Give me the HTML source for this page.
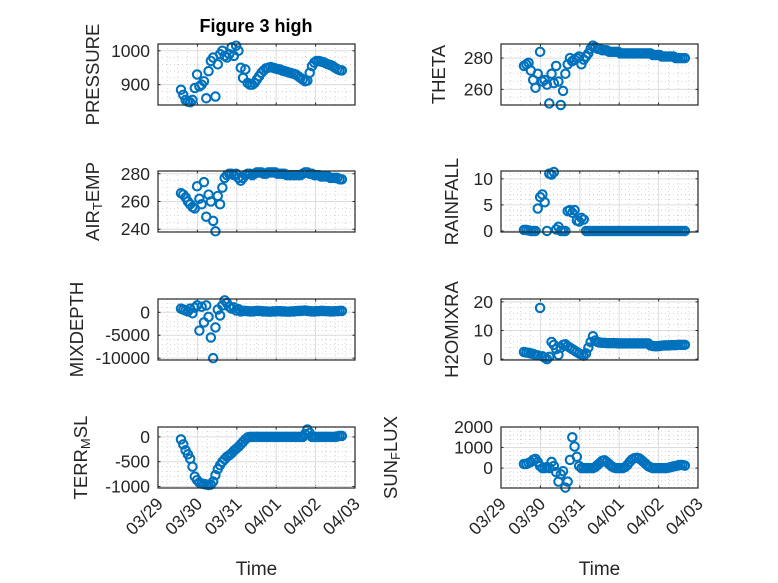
<!DOCTYPE html>
<html><head><meta charset="utf-8"><style>
html,body{margin:0;padding:0;background:#fff;}
svg{display:block;font-family:"Liberation Sans","DejaVu Sans",sans-serif;}
</style></head><body>
<svg id="fig" width="778" height="583" viewBox="0 0 778 583" xmlns="http://www.w3.org/2000/svg">
<rect width="778" height="583" fill="#fff"/>
</svg>
<script>
// hours since 03/29 00:00
const timeHours = [];
for (let i = 0; i < 71; i++) timeHours.push(14 + 1.4 * i);
const dayTicks = ['03/29','03/30','03/31','04/01','04/02','04/03'];

const pressure = [885,870,855,850,848,855,890,930,895,900,910,860,940,970,980,865,960,990,1000,985,980,990,1010,985,1015,1000,950,920,945,905,900,900,905,915,925,935,942,948,950,952,950,948,946,945,942,940,938,936,934,932,930,925,920,915,910,912,935,955,965,970,970,968,966,963,960,958,955,950,946,943,942];
const theta = [275,276,277,272,266,261,270,284,265,266,263,251,270,264,275,265,250,259,270,276,280,278,279,280,281,276,279,281,283,286,288,287,286,286,285,285,285,284,284,284,284,284,283,283,283,283,283,283,283,283,283,283,283,283,283,283,282,282,282,282,281,281,281,281,281,281,280,280,280,280,280];
const airTemp = [266,265,263,260,258,256,255,271,262,258,274,249,265,260,246,238.5,264,258,270,277,279,280,280,279,280,277,275,277,279,280,280,279,280,281,281,281,280,280,281,281,281,281,280,280,280,280,279,279,279,279,279,279,279,280,281,281,280,280,279,279,279,278,278,278,278,277,277,277,277,276,276];
const rainfall = [0.2,0.2,0.1,0,0,0,4.3,6.5,7,5.5,0,11,10.8,11.3,0.3,0.8,0,0,0,3.8,4,3.5,4,2,1.8,2.5,2.2,0,0,0,0,0,0,0,0,0,0,0,0,0,0,0,0,0,0,0,0,0,0,0,0,0,0,0,0,0,0,0,0,0,0,0,0,0,0,0,0,0,0,0,0];
const mixDepth = [800,600,400,200,800,-200,1000,1500,-4000,1200,-2200,1500,-1000,-5500,-10000,-3300,600,-700,1500,2600,2000,1200,800,1100,400,700,200,300,300,250,200,200,250,300,300,250,200,200,150,150,200,200,250,250,200,200,150,150,200,200,250,300,300,350,400,300,250,200,200,250,250,300,300,250,250,200,200,250,250,300,300];
const h2oMixRatio = [2.5,2.3,2.2,2,1.8,1.5,1.3,17.9,1,0.5,0,0.8,6,5,3.5,1.5,4,5,5.2,4.5,4,3.5,3,2.5,2,1.6,1.2,2,4,6,8,6.5,6,5.8,5.7,5.7,5.6,5.6,5.6,5.6,5.6,5.5,5.5,5.5,5.5,5.5,5.5,5.5,5.5,5.5,5.5,5.5,5.5,5.5,5.5,4.8,4.6,4.5,4.5,4.6,4.7,4.8,4.8,4.8,4.9,4.9,4.9,5,5,5,5];
const terrMsl = [-50,-150,-270,-350,-440,-600,-800,-870,-920,-940,-950,-960,-970,-960,-900,-770,-650,-570,-500,-450,-400,-370,-330,-280,-240,-200,-150,-100,-50,-10,0,0,0,0,0,0,0,0,0,0,0,0,0,0,0,0,0,0,0,0,0,0,0,0,60,150,80,0,0,0,0,0,0,0,0,0,0,0,10,20,20];
const sunFlux = [200,200,250,300,400,450,300,100,0,0,50,0,300,100,-200,-660,-300,-150,-950,-660,400,1500,1050,550,100,0,0,0,0,0,0,50,150,250,350,380,300,200,100,30,0,0,0,0,50,150,300,420,480,500,480,400,300,200,100,40,0,0,0,0,0,0,0,20,50,80,100,130,150,150,120];

const panels = [
 {name:'pressure', vals:pressure, col:0,row:0, ymin:840, ymax:1020, ticks:[900,1000], minor:20, label:['PRESSURE'], lx:94},
 {name:'theta', vals:theta, col:1,row:0, ymin:250, ymax:289, ticks:[260,280], minor:5, label:['THETA'], lx:440},
 {name:'air-temp', vals:airTemp, col:0,row:1, ymin:238, ymax:282, ticks:[240,260,280], minor:5, label:['AIR','T','EMP'], lx:94},
 {name:'rainfall', vals:rainfall, col:1,row:1, ymin:-0.2, ymax:11.5, ticks:[0,5,10], minor:1, label:['RAINFALL'], lx:453},
 {name:'mixdepth', vals:mixDepth, col:0,row:2, ymin:-10400, ymax:2900, ticks:[-10000,-5000,0], minor:1000, label:['MIXDEPTH'], lx:78},
 {name:'h2o-mix-ratio', vals:h2oMixRatio, col:1,row:2, ymin:-0.3, ymax:21, ticks:[0,10,20], minor:2, label:['H2OMIXRA'], lx:453},
 {name:'terr-msl', vals:terrMsl, col:0,row:3, ymin:-1030, ymax:200, ticks:[-1000,-500,0], minor:100, label:['TERR','M','SL'], lx:82},
 {name:'sun-flux', vals:sunFlux, col:1,row:3, ymin:-970, ymax:2000, ticks:[0,1000,2000], minor:200, label:['SUN','F','LUX'], lx:392}
];
const colX = [158, 501], axW = 197;
const rowY = [44, 171, 299, 427], axH = 61;
const NS = 'http://www.w3.org/2000/svg';
const svg = document.getElementById('fig');
function mk(tag, attrs, parent){ const e=document.createElementNS(NS,tag); for(const k in attrs) e.setAttribute(k,attrs[k]); (parent||svg).appendChild(e); return e; }

panels.forEach(p => {
  const x0 = colX[p.col], y0 = rowY[p.row];
  const g = mk('g', {});
  
  
  const xs = h => x0 + h / (24*5) * axW;
  const ys = v => y0 + axH - (v - p.ymin) / (p.ymax - p.ymin) * axH;
  mk('rect', {x:x0, y:y0, width:axW, height:axH, fill:'#fff'}, g);
  for (let h = 6; h < 120; h += 6) {
    if (h % 24 === 0) continue;
    mk('line', {x1:xs(h), x2:xs(h), y1:y0, y2:y0+axH, stroke:'#bdbdbd', 'stroke-width':0.6, 'stroke-dasharray':'1 3'}, g);
  }
  const mStart = Math.ceil(p.ymin / p.minor) * p.minor;
  for (let v = mStart; v <= p.ymax; v += p.minor) {
    if (p.ticks.some(t => Math.abs(t - v) < 1e-9)) continue;
    mk('line', {x1:x0, x2:x0+axW, y1:ys(v), y2:ys(v), stroke:'#bdbdbd', 'stroke-width':0.6, 'stroke-dasharray':'1 3'}, g);
  }
  for (let d = 1; d < 5; d++) {
    mk('line', {x1:xs(d*24), x2:xs(d*24), y1:y0, y2:y0+axH, stroke:'#dcdcdc', 'stroke-width':1}, g);
  }
  for (let d = 0; d <= 5; d++) {
    mk('line', {x1:xs(d*24), x2:xs(d*24), y1:y0+axH, y2:y0+axH-2.5, stroke:'#262626', 'stroke-width':1}, g);
    mk('line', {x1:xs(d*24), x2:xs(d*24), y1:y0, y2:y0+2.5, stroke:'#262626', 'stroke-width':1}, g);
  }
  p.ticks.forEach(t => {
    mk('line', {x1:x0, x2:x0+axW, y1:ys(t), y2:ys(t), stroke:'#dcdcdc', 'stroke-width':1}, g);
    mk('line', {x1:x0, x2:x0+2.5, y1:ys(t), y2:ys(t), stroke:'#262626', 'stroke-width':1}, g);
    mk('line', {x1:x0+axW, x2:x0+axW-2.5, y1:ys(t), y2:ys(t), stroke:'#262626', 'stroke-width':1}, g);
    const tl = mk('text', {x:x0-8, y:ys(t)+6, 'text-anchor':'end', 'font-size':17.5, fill:'#262626'}, g);
    tl.textContent = String(t);
    
    
  });
  const dg = mk('g', {fill:'none', stroke:'#0072bd', 'stroke-width':2.1}, g);
  
  
  p.vals.forEach((v, i) => {
    const c = mk('circle', {cx:xs(timeHours[i]), cy:ys(v), r:4.2}, dg);
    
    
  });
  mk('rect', {x:x0, y:y0, width:axW, height:axH, fill:'none', stroke:'#262626', 'stroke-width':1.2}, g);
  const cy = y0 + axH/2;
  const yl = mk('text', {x:p.lx, y:cy, transform:`rotate(-90 ${p.lx} ${cy})`, 'text-anchor':'middle', 'dominant-baseline':'middle', 'font-size':18.5, fill:'#262626'}, svg);
  
  
  if (p.label.length === 1) yl.textContent = p.label[0];
  else {
    const a = mk('tspan', {}, yl); a.textContent = p.label[0];
    const b = mk('tspan', {'font-size':13, dy:5}, yl); b.textContent = p.label[1];
    const c = mk('tspan', {dy:-5}, yl); c.textContent = p.label[2];
  }
  if (p.row === 3) {
    dayTicks.forEach((lab, d) => {
      const tx = xs(d*24) + 6, ty = y0 + axH + 17;
      const t = mk('text', {x:tx, y:ty, transform:`rotate(-45 ${tx} ${ty})`, 'text-anchor':'end', 'font-size':17.5, fill:'#262626'}, svg);
      t.textContent = lab;
      
      
    });
    const xl = mk('text', {x:x0 + axW/2, y:575, 'text-anchor':'middle', 'font-size':19, fill:'#262626'}, svg);
    xl.textContent = 'Time';
    
    
  }
});
const title = mk('text', {x:256, y:32, 'text-anchor':'middle', 'font-size':18, 'font-weight':'bold', fill:'#000'}, svg);
title.textContent = 'Figure 3 high';


</script>
</body></html>
